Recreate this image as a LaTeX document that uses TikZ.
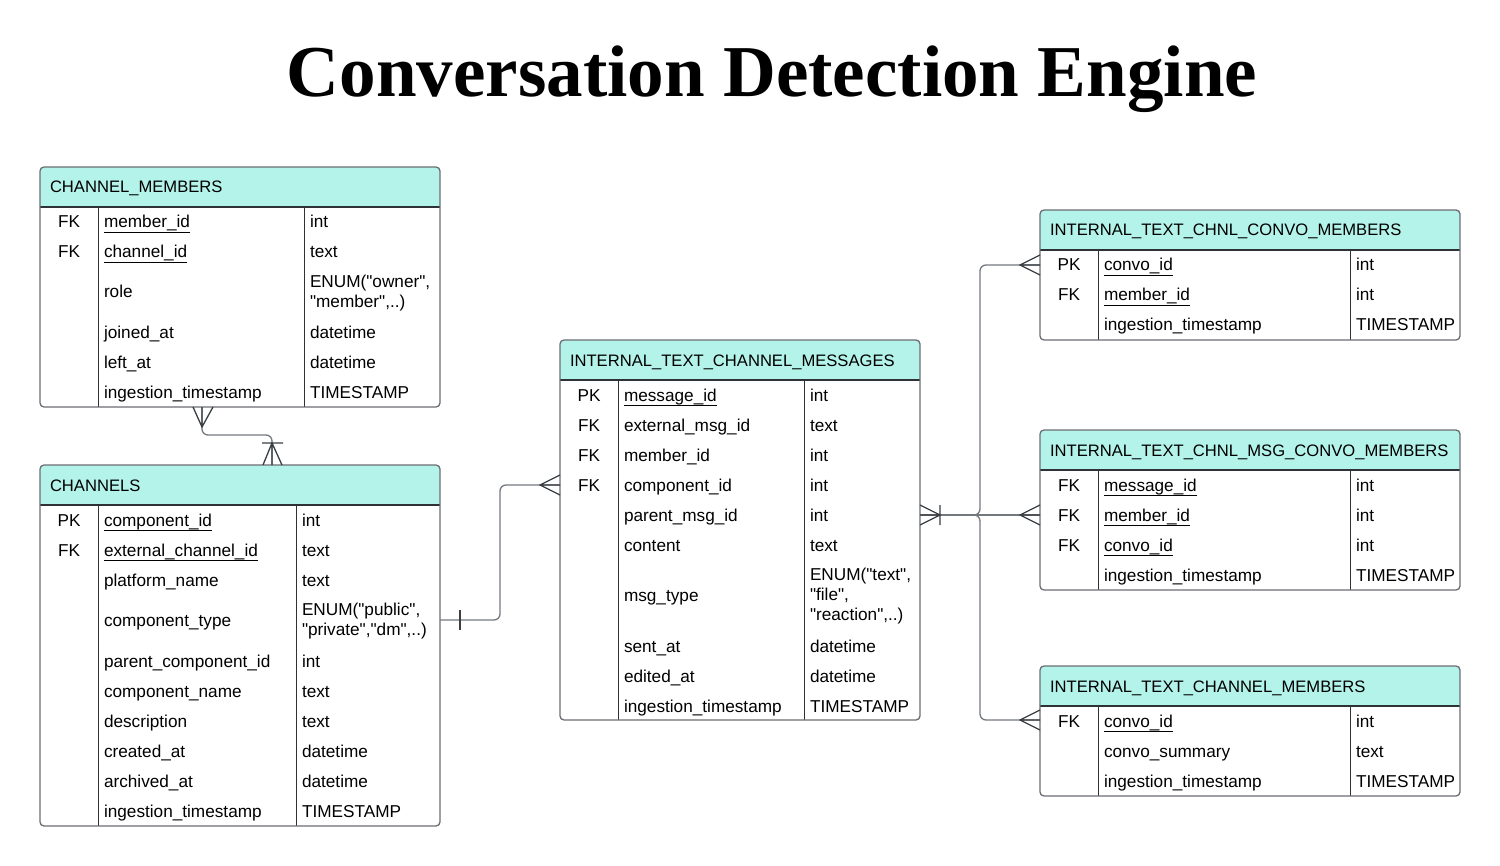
\documentclass[tikz,border=0pt]{standalone}
\usepackage{fontspec}
\setmainfont{Liberation Sans}[Ligatures=TeXOff]
\newfontfamily\titlefont{Liberation Serif}
\usetikzlibrary{calc}
\definecolor{headfill}{HTML}{B4F3EA}
\definecolor{bordergrey}{HTML}{6B6E72}
\definecolor{conngrey}{HTML}{74797E}
\definecolor{crowdark}{HTML}{3A3F44}
\definecolor{sepdark}{HTML}{2E3135}
\newcommand\ulx[1]{\setbox0\hbox{#1}\rlap{\rule[-2.6pt]{\wd0}{0.75pt}}\box0}
\tikzset{
  tablebody/.style={anchor=north west, inner sep=0pt, outer sep=0pt},
  tborder/.style={draw=bordergrey, line width=0.65pt, rounded corners=2pt},
  hsep/.style={draw=sepdark, line width=0.6pt},
  colsep/.style={draw=sepdark, line width=0.5pt},
  cell/.style={inner sep=0pt, outer sep=0pt, font=\fontsize{8.6pt}{10pt}\selectfont, text=black},
  mcell/.style={cell, anchor=west, align=left},
  htext/.style={inner sep=0pt, outer sep=0pt, font=\fontsize{8.3pt}{10pt}\selectfont, text=black, anchor=base west},
  conn/.style={draw=conngrey, line width=0.65pt, rounded corners=3pt},
  crow/.style={draw=crowdark, line width=0.65pt}
}
\newcommand\ertable[8]{%
  \pgfmathsetmacro\kx{(#2+#6)/2}%
  \pgfmathsetmacro\fx{#6+6}%
  \pgfmathsetmacro\tx{#7+6}%
  \def\tname{#1}%
  \node[tablebody, minimum width={(#4-#2)*0.5pt}, minimum height={(#5-#3)*0.5pt}] (#1) at (#2,#3) {};
  \begin{scope}
    \clip[rounded corners=2pt] (#2,#3) rectangle (#4,#5);
    \fill[headfill] (#2,#3) rectangle (#4,#3+40);
  \end{scope}
  \draw[hsep] (#2,#3+40) -- (#4,#3+40);
  \draw[colsep] (#6,#3+40) -- (#6,#5) (#7,#3+40) -- (#7,#5);
  \draw[tborder] (#1.north west) rectangle (#1.south east);
  \node[htext] (#1-h) at (#2+10,#3+26) {#8};
}
\newcommand\ertrow[5]{%
  \node[cell, anchor=base] (\tname-k#1) at (\kx,#2+6) {#3};
  \node[cell, anchor=base west] (\tname-f#1) at (\fx,#2+6) {#4};
  \node[cell, anchor=base west] (\tname-t#1) at (\tx,#2+6) {#5};
}
\newcommand\ertrowm[5]{%
  \node[cell, anchor=base] (\tname-k#1) at (\kx,#2+6) {#3};
  \node[cell, anchor=base west] (\tname-f#1) at (\fx,#2+6) {#4};
  \node[mcell] (\tname-t#1) at (\tx,#2+1.5) {#5};
}
\begin{document}
\begin{tikzpicture}[x=0.5pt,y=-0.5pt]
\path[use as bounding box, fill=white] (0,0) rectangle (1500,866);

\node[anchor=base, inner sep=0pt] (title) at (772,97)
  {\resizebox{485pt}{!}{\titlefont\bfseries Conversation Detection Engine}};

% CHANNEL_MEMBERS
\ertable{cm}{40}{167}{440}{407}{98}{304}{CHANNEL\_MEMBERS}
\ertrow{1}{222}{FK}{\ulx{member\_id}}{int}
\ertrow{2}{252}{FK}{\ulx{channel\_id}}{text}
\ertrowm{3}{292}{}{role}{ENUM("owner",\\"member",..)}
\ertrow{4}{333}{}{joined\_at}{datetime}
\ertrow{5}{363}{}{left\_at}{datetime}
\ertrow{6}{393}{}{ingestion\_timestamp}{TIMESTAMP}

% CHANNELS
\ertable{ch}{40}{465}{440}{826}{98}{296}{CHANNELS}
\ertrow{1}{520}{PK}{\ulx{component\_id}}{int}
\ertrow{2}{550}{FK}{\ulx{external\_channel\_id}}{text}
\ertrow{3}{580}{}{platform\_name}{text}
\ertrowm{4}{620}{}{component\_type}{ENUM("public",\\"private","dm",..)}
\ertrow{5}{661}{}{parent\_component\_id}{int}
\ertrow{6}{691}{}{component\_name}{text}
\ertrow{7}{721}{}{description}{text}
\ertrow{8}{751}{}{created\_at}{datetime}
\ertrow{9}{781}{}{archived\_at}{datetime}
\ertrow{10}{811}{}{ingestion\_timestamp}{TIMESTAMP}

% INTERNAL_TEXT_CHANNEL_MESSAGES
\ertable{msg}{560}{340}{920}{720}{618}{804}{INTERNAL\_TEXT\_CHANNEL\_MESSAGES}
\ertrow{1}{395}{PK}{\ulx{message\_id}}{int}
\ertrow{2}{425}{FK}{external\_msg\_id}{text}
\ertrow{3}{455}{FK}{member\_id}{int}
\ertrow{4}{485}{FK}{component\_id}{int}
\ertrow{5}{515}{}{parent\_msg\_id}{int}
\ertrow{6}{545}{}{content}{text}
\ertrowm{7}{595}{}{msg\_type}{ENUM("text",\\"file",\\"reaction",..)}
\ertrow{8}{646}{}{sent\_at}{datetime}
\ertrow{9}{676}{}{edited\_at}{datetime}
\ertrow{10}{706}{}{ingestion\_timestamp}{TIMESTAMP}

% INTERNAL_TEXT_CHNL_CONVO_MEMBERS
\ertable{ta}{1040}{210}{1460}{340}{1098}{1350}{INTERNAL\_TEXT\_CHNL\_CONVO\_MEMBERS}
\ertrow{1}{265}{PK}{\ulx{convo\_id}}{int}
\ertrow{2}{295}{FK}{\ulx{member\_id}}{int}
\ertrow{3}{325}{}{ingestion\_timestamp}{TIMESTAMP}

% INTERNAL_TEXT_CHNL_MSG_CONVO_MEMBERS
\ertable{tb}{1040}{430}{1460}{590}{1098}{1350}{INTERNAL\_TEXT\_CHNL\_MSG\_CONVO\_MEMBERS}
\ertrow{1}{485}{FK}{\ulx{message\_id}}{int}
\ertrow{2}{515}{FK}{\ulx{member\_id}}{int}
\ertrow{3}{545}{FK}{\ulx{convo\_id}}{int}
\ertrow{4}{575}{}{ingestion\_timestamp}{TIMESTAMP}

% INTERNAL_TEXT_CHANNEL_MEMBERS
\ertable{tc}{1040}{666}{1460}{796}{1098}{1350}{INTERNAL\_TEXT\_CHANNEL\_MEMBERS}
\ertrow{1}{721}{FK}{\ulx{convo\_id}}{int}
\ertrow{2}{751}{}{convo\_summary}{text}
\ertrow{3}{781}{}{ingestion\_timestamp}{TIMESTAMP}

% ---- connectors ----
% CHANNEL_MEMBERS -> CHANNELS
\coordinate (c1a) at ($(cm.south west)+(162,0)$);
\coordinate (c1b) at ($(ch.north west)+(232,0)$);
\draw[conn] (c1a) -- ($(c1a)+(0,28)$) -- ($(c1b)+(0,-30)$) -- (c1b);
\draw[crow] ($(c1a)+(-9,0)$) -- ($(c1a)+(0,20)$) -- ($(c1a)+(11,0)$)
            (c1a) -- ($(c1a)+(0,20)$);
\draw[crow] ($(c1b)+(-9,0)$) -- ($(c1b)+(0,-22)$) -- ($(c1b)+(10,0)$)
            ($(c1b)+(-10,-22)$) -- ($(c1b)+(11,-22)$)
            (c1b) -- ($(c1b)+(0,-22)$);

% CHANNELS -> MESSAGES
\coordinate (c2a) at ($(ch.north east)+(0,155)$);
\coordinate (c2b) at ($(msg.north west)+(0,145)$);
\draw[conn] (c2a) -- ($(c2a)+(60,0)$) -- ($(c2b)+(-60,0)$) -- (c2b);
\draw[crow] ($(c2a)+(20,-10)$) -- ($(c2a)+(20,10)$);
\draw[crow] ($(c2b)+(0,-10)$) -- ($(c2b)+(-20,0)$) -- ($(c2b)+(0,10)$)
            (c2b) -- ($(c2b)+(-20,0)$);

% MESSAGES -> right tables
\coordinate (c3a) at ($(msg.north east)+(0,175)$);
\coordinate (c3b) at ($(ta.north west)+(0,55)$);
\coordinate (c3c) at ($(tb.north west)+(0,85)$);
\coordinate (c3d) at ($(tc.north west)+(0,54)$);
\draw[conn] (c3a) -- ($(c3a)+(60,0)$) -- ($(c3b)+(-60,0)$) -- (c3b);
\draw[conn] (c3a) -- (c3c);
\draw[conn] (c3a) -- ($(c3a)+(60,0)$) -- ($(c3d)+(-60,0)$) -- (c3d);
\draw[crow] ($(c3a)+(0,-10)$) -- ($(c3a)+(20,0)$) -- ($(c3a)+(0,10)$)
            ($(c3a)+(20,-10)$) -- ($(c3a)+(20,10)$)
            (c3a) -- ($(c3a)+(20,0)$);
\foreach \e in {c3b,c3c,c3d}{
  \draw[crow] ($(\e)+(0,-10)$) -- ($(\e)+(-20,0)$) -- ($(\e)+(0,10)$)
              (\e) -- ($(\e)+(-20,0)$);
}
\end{tikzpicture}
\end{document}
